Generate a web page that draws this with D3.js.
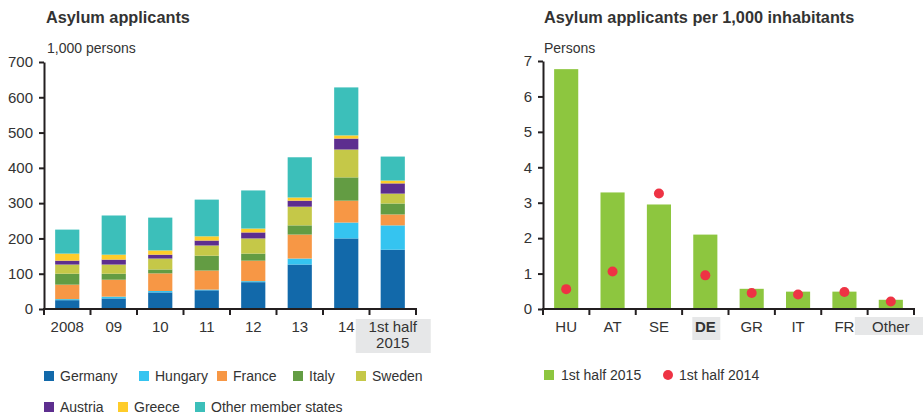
<!DOCTYPE html>
<html>
<head>
<meta charset="utf-8">
<script src="https://cdn.jsdelivr.net/npm/d3@7"></script>
<style>
  html, body { margin: 0; padding: 0; background: #fff; }
  svg { display: block; font-family: "Liberation Sans", Arial, sans-serif; }
</style>
</head>
<body>
<svg id="chart" width="923" height="417"></svg>
<script>
// ---- Left chart data (1,000 persons) ----
const years = ["2008", "09", "10", "11", "12", "13", "14", "1st half 2015"];
const seriesNames = ["Germany", "Hungary", "France", "Italy", "Sweden", "Austria", "Greece", "Other member states"];
const germany = [25, 30, 47, 53, 76, 126, 200, 168];
const hungary = [3, 5, 4, 2, 3, 17, 45, 69];
const france  = [41, 48, 50, 54, 58, 68, 62, 31];
const italy   = [31, 17, 11, 42, 20, 26, 66, 31];
const sweden  = [26, 26, 31, 29, 43, 53, 79, 28];
const austria = [11, 14, 11, 14, 17, 17, 31, 29];
const greece  = [20, 14, 12, 12, 11, 9, 9, 8];
const others  = [68, 111, 93, 104, 108, 114, 136, 68];
const leftTicks = [0, 100, 200, 300, 400, 500, 600, 700];

// ---- Right chart data (persons per 1,000 inhabitants) ----
const countries = ["HU", "AT", "SE", "DE", "GR", "IT", "FR", "Other"];
const h1_2015 = [6.77, 3.29, 2.95, 2.10, 0.57, 0.49, 0.49, 0.26];
const h1_2014 = [0.56, 1.06, 3.26, 0.95, 0.45, 0.41, 0.48, 0.21];
const rightTicks = [0, 1, 2, 3, 4, 5, 6, 7];

const colors = ["#1269aa", "#35c4f0", "#f79745", "#639c43", "#c5c848", "#5d2e8f", "#fecc2a", "#3cbfba"];
const green = "#8dc63f", red = "#ee3344", ink = "#333333", axisInk = "#231f20", boxFill = "#e6e7e8";

const svg = d3.select("#chart");

// ================= LEFT =================
const L = { x0: 44, x1: 416, y0: 309, y1: 62 };
const seriesArrays = [germany, hungary, france, italy, sweden, austria, greece, others];
const rows = years.map((y, i) => {
  const r = { year: y };
  seriesNames.forEach((s, k) => r[s] = seriesArrays[k][i]);
  return r;
});
const stack = d3.stack().keys(seriesNames)(rows);

const xL = d3.scaleBand().domain(years).range([L.x0, L.x1]).paddingInner(0.48).paddingOuter(0.24);
const yL = d3.scaleLinear().domain([0, 700]).range([L.y0, L.y1]);

// highlight box for last category
const gL = svg.append("g");
gL.append("rect").attr("x", xL("1st half 2015") + xL.bandwidth() / 2 - 37).attr("y", 319)
  .attr("width", 75).attr("height", 34).attr("fill", boxFill);

gL.selectAll("g.layer").data(stack).join("g").attr("class", "layer")
  .attr("fill", (d, i) => colors[i])
  .selectAll("rect").data(d => d).join("rect")
  .attr("x", d => xL(d.data.year))
  .attr("width", xL.bandwidth())
  .attr("y", d => yL(d[1]))
  .attr("height", d => yL(d[0]) - yL(d[1]));

// y axis
const yAxisL = gL.append("g").attr("transform", `translate(${L.x0},0)`)
  .call(d3.axisLeft(yL).tickValues(leftTicks).tickSize(5).tickSizeOuter(0).tickPadding(6).tickFormat(d3.format("d")));
// x axis line and boundary ticks
const stepL = xL.step();
const boundsL = years.map(y => xL(y) - (stepL - xL.bandwidth()) / 2).concat([L.x1]);
function styleAxis(g) {
  g.selectAll("path").attr("stroke", axisInk).attr("stroke-width", 2);
  g.selectAll("line").attr("stroke", axisInk).attr("stroke-width", 2);
  g.selectAll("text").attr("fill", ink).style("font-size", "15px").style("font-family", "Liberation Sans, Arial, sans-serif");
}
styleAxis(yAxisL);
gL.append("line").attr("x1", L.x0 - 1).attr("x2", L.x1 + 1).attr("y1", L.y0).attr("y2", L.y0)
  .attr("stroke", axisInk).attr("stroke-width", 2);
gL.selectAll("line.xt").data(boundsL).join("line").attr("class", "xt")
  .attr("x1", d => d).attr("x2", d => d).attr("y1", L.y0).attr("y2", L.y0 + 6)
  .attr("stroke", axisInk).attr("stroke-width", 2);
gL.selectAll("text.xl").data(years).join("text").attr("class", "xl")
  .attr("x", d => xL(d) + xL.bandwidth() / 2)
  .attr("text-anchor", "middle").attr("fill", ink).style("font-size", "15px")
  .each(function (d) {
    const t = d3.select(this);
    if (d === "1st half 2015") {
      t.append("tspan").attr("x", xL(d) + xL.bandwidth() / 2).attr("y", 332).text("1st half");
      t.append("tspan").attr("x", xL(d) + xL.bandwidth() / 2).attr("y", 348).text("2015");
    } else {
      t.attr("y", 332).text(d);
    }
  });

// titles
svg.append("text").attr("x", 46).attr("y", 23).attr("fill", ink).style("font-size", "16.3px").style("font-weight", "bold").text("Asylum applicants");
svg.append("text").attr("x", 47).attr("y", 53).attr("fill", ink).style("font-size", "14px").text("1,000 persons");

// legend
const legPos = [[44, 376], [139, 376], [217, 376], [293, 376], [356, 376], [44, 407], [118, 407], [195, 407]];
const leg = svg.append("g").selectAll("g").data(seriesNames).join("g")
  .attr("transform", (d, i) => `translate(${legPos[i][0]},${legPos[i][1]})`);
leg.append("rect").attr("x", 0).attr("y", -5).attr("width", 10).attr("height", 10).attr("fill", (d, i) => colors[i]);
leg.append("text").attr("x", 16).attr("y", 5).attr("fill", ink).style("font-size", "14px").text(d => d);

// ================= RIGHT =================
const R = { x0: 543, x1: 914, y0: 309, y1: 61 };
const xR = d3.scaleBand().domain(countries).range([R.x0, R.x1]).paddingInner(0.48).paddingOuter(0.24);
const yR = d3.scaleLinear().domain([0, 7]).range([R.y0, R.y1]);
const gR = svg.append("g");

// highlight boxes for DE and Other
gR.append("rect").attr("x", xR("DE") + xR.bandwidth() / 2 - 13).attr("y", 317).attr("width", 28).attr("height", 23).attr("fill", boxFill);
gR.append("rect").attr("x", xR("Other") + xR.bandwidth() / 2 - 36).attr("y", 317).attr("width", 72).attr("height", 18).attr("fill", boxFill);

gR.selectAll("rect.bar").data(countries).join("rect").attr("class", "bar")
  .attr("x", d => xR(d)).attr("width", xR.bandwidth())
  .attr("y", (d, i) => yR(h1_2015[i])).attr("height", (d, i) => yR(0) - yR(h1_2015[i]))
  .attr("fill", green);
gR.selectAll("circle.dot").data(countries).join("circle").attr("class", "dot")
  .attr("cx", d => xR(d) + xR.bandwidth() / 2).attr("cy", (d, i) => yR(h1_2014[i]))
  .attr("r", 5).attr("fill", red);

const yAxisR = gR.append("g").attr("transform", `translate(${R.x0},0)`)
  .call(d3.axisLeft(yR).tickValues(rightTicks).tickSize(5).tickSizeOuter(0).tickPadding(6).tickFormat(d3.format("d")));
styleAxis(yAxisR);
const stepR = xR.step();
const boundsR = countries.map(c => xR(c) - (stepR - xR.bandwidth()) / 2).concat([R.x1]);
gR.append("line").attr("x1", R.x0 - 1).attr("x2", R.x1 + 1).attr("y1", R.y0).attr("y2", R.y0)
  .attr("stroke", axisInk).attr("stroke-width", 2);
gR.selectAll("line.xt").data(boundsR).join("line").attr("class", "xt")
  .attr("x1", d => d).attr("x2", d => d).attr("y1", R.y0).attr("y2", R.y0 + 6)
  .attr("stroke", axisInk).attr("stroke-width", 2);
gR.selectAll("text.xl").data(countries).join("text").attr("class", "xl")
  .attr("x", d => xR(d) + xR.bandwidth() / 2).attr("y", 332)
  .attr("text-anchor", "middle").attr("fill", ink).style("font-size", "15px")
  .style("font-weight", d => d === "DE" ? "bold" : "normal")
  .text(d => d);

svg.append("text").attr("x", 544).attr("y", 23).attr("fill", ink).style("font-size", "16.3px").style("font-weight", "bold").text("Asylum applicants per 1,000 inhabitants");
svg.append("text").attr("x", 544).attr("y", 53).attr("fill", ink).style("font-size", "14px").text("Persons");

// right legend
const legR = svg.append("g");
legR.append("rect").attr("x", 544).attr("y", 370).attr("width", 10).attr("height", 10).attr("fill", green);
legR.append("text").attr("x", 561).attr("y", 380).attr("fill", ink).style("font-size", "14px").text("1st half 2015");
legR.append("circle").attr("cx", 668).attr("cy", 375).attr("r", 5).attr("fill", red);
legR.append("text").attr("x", 679).attr("y", 380).attr("fill", ink).style("font-size", "14px").text("1st half 2014");
</script>
</body>
</html>
